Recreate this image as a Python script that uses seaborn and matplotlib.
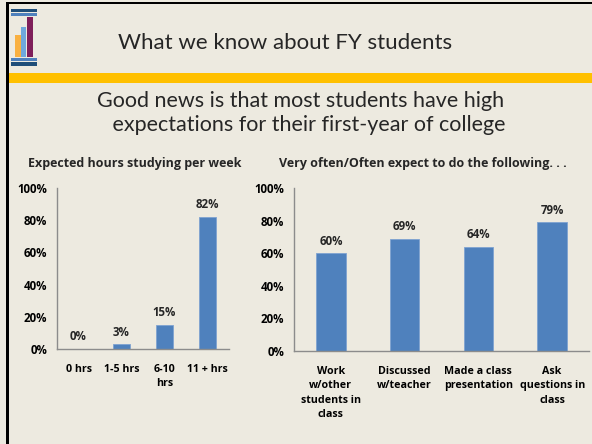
import matplotlib
matplotlib.use("Agg")
import matplotlib.pyplot as plt
import numpy as np
import seaborn as sns
from matplotlib.patches import Rectangle
from matplotlib.ticker import PercentFormatter

# data
hours_labels = ["0 hrs", "1-5 hrs", "6-10\nhrs", "11 + hrs"]
hours_values = [0, 3, 15, 82]

activity_labels = ["Work\nw/other\nstudents in\nclass", "Discussed\nw/teacher",
                   "Made a class\npresentation", "Ask\nquestions in\nclass"]
activity_values = [60, 69, 64, 79]

W, H = 592, 444
BG = "#EDEAE0"
BLUE = "#4F81BD"
AXIS = "#8C8C8C"
BOLD_FONT = ["Open Sans", "DejaVu Sans"]
LAB = 8.3
XLAB = 7.7

sns.set_theme(style="white")
plt.rcParams["font.family"] = ["Lato", "DejaVu Sans"]


def fx(x):
    return x / W


def fy(y):
    return 1 - y / H


def rect(fig, x0, y0, x1, y1, color):
    # pixel box (top-left origin) drawn in figure coords
    fig.patches.append(Rectangle((fx(x0), fy(y1)), (x1 - x0) / W, (y1 - y0) / H,
                                 transform=fig.transFigure, color=color, lw=0,
                                 zorder=1))


def bar_panel(ax, labels, values):
    sns.barplot(x=labels, y=values, color=BLUE, width=0.4, ax=ax,
                edgecolor="#7FA3D1", linewidth=0.6, saturation=1)
    ax.set_facecolor(BG)
    ax.set_ylim(0, 100)
    ax.set_xlim(-0.5, len(labels) - 0.5)
    ax.set_yticks(np.arange(0, 101, 20))
    ax.yaxis.set_major_formatter(PercentFormatter(decimals=0))
    ax.set_xticks(np.arange(-0.5, len(labels)), minor=True)
    ax.tick_params(axis="x", which="major", length=0, pad=11)
    ax.tick_params(axis="x", which="minor", length=4, color=AXIS, direction="out")
    ax.tick_params(axis="y", length=4, color=AXIS, direction="out", pad=3)
    for t in ax.get_yticklabels():
        t.set_fontweight("bold")
        t.set_family(BOLD_FONT)
        t.set_fontsize(LAB)
        t.set_color("black")
    for t in ax.get_xticklabels():
        t.set_fontweight("bold")
        t.set_family(BOLD_FONT)
        t.set_fontsize(XLAB)
        t.set_linespacing(1.4)
        t.set_color("black")
    for s in ["top", "right"]:
        ax.spines[s].set_visible(False)
    for s in ["left", "bottom"]:
        ax.spines[s].set_color(AXIS)
        ax.spines[s].set_linewidth(1.0)
    ax.bar_label(ax.containers[0], labels=[f"{v}%" for v in values],
                 padding=4, fontsize=LAB, fontweight="bold", family=BOLD_FONT)
    ax.set_xlabel("")
    ax.set_ylabel("")


fig = plt.figure(figsize=(W / 100, H / 100), dpi=100)
fig.patch.set_facecolor(BG)

# slide frame and header stripe
rect(fig, 6, 2, W, 4.5, "black")
rect(fig, 6, 2, 9, H, "black")
rect(fig, 9, 73, W, 83, "#FFC000")

# logo
rect(fig, 11, 9, 37, 12, "#1F4E79")
rect(fig, 11, 13, 37, 16, "#4F81BD")
rect(fig, 11, 58, 37, 61, "#4F81BD")
rect(fig, 11, 62, 37, 66, "#1F4E79")
rect(fig, 15, 35, 21, 57, "#F9B040")
rect(fig, 21, 27, 26, 57, "#6FA8DC")
rect(fig, 27, 17, 33, 57, "#7F1F5A")

fig.text(fx(285), fy(43), "What we know about FY students", fontsize=16,
         ha="center", va="center")
fig.text(fx(301), fy(113), "Good news is that most students have high\n"
         "   expectations for their first-year of college", fontsize=15.5,
         ha="center", va="center", linespacing=1.2)

fig.text(fx(28), fy(163), "Expected hours studying per week", fontsize=9,
         fontweight="bold", family=BOLD_FONT, ha="left", va="center")
fig.text(fx(279), fy(163), "Very often/Often expect to do the following. . .",
         fontsize=9, fontweight="bold", family=BOLD_FONT, ha="left", va="center")

ax1 = fig.add_axes([fx(57), fy(349), (229 - 57) / W, (349 - 188) / H])
bar_panel(ax1, hours_labels, hours_values)

ax2 = fig.add_axes([fx(294), fy(351), (589 - 294) / W, (351 - 188) / H])
bar_panel(ax2, activity_labels, activity_values)

fig.savefig("out.png", dpi=100, facecolor=BG)
